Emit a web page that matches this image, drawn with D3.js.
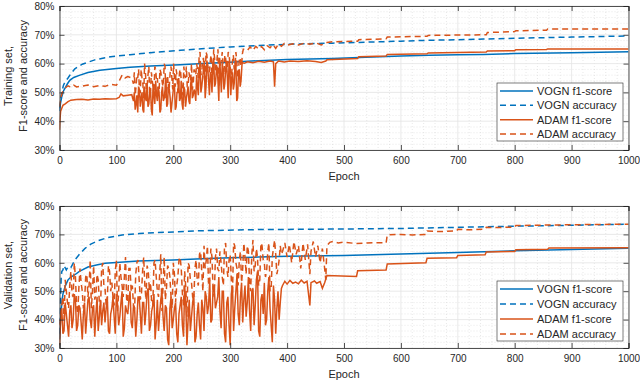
<!DOCTYPE html>
<html>
<head>
<meta charset="utf-8">
<script src="https://cdn.jsdelivr.net/npm/d3@7"></script>
<style>
  body { margin: 0; background: #fff; }
  text { font-family: "Liberation Sans", Arial, sans-serif; fill: #262626; }
</style>
</head>
<body>
<script>
// ---- data (values in %) ----
var xTicks = [0, 100, 200, 300, 400, 500, 600, 700, 800, 900, 1000];
var yTicks = [30, 40, 50, 60, 70, 80];
var legendNames = ["VOGN f1-score", "VOGN accuracy", "ADAM f1-score", "ADAM accuracy"];
var panelLabels = [["Training set,", "F1-score and accuracy"], ["Validation set,", "F1-score and accuracy"]];

// training set
var trainVognF1 = [[0,43.5],[2,46.5],[4,48.5],[7,50.5],[10,51.6],[14,53],[18,54.2],[25,55.2],[36,56],[50,56.9],[71,57.7],[100,58.3],[124,58.7],[160,59.2],[212,59.6],[260,60.1],[300,60.5],[350,61],[400,61.4],[480,61.8],[550,62.3],[600,62.6],[650,62.9],[700,63.1],[745,63.2],[800,63.5],[900,63.8],[1000,64.1]];
var trainVognAcc = [[0,44.5],[2,47.5],[4,50],[7,52.5],[10,53.7],[15,55],[20,56.5],[27,58.2],[40,59.8],[62,61.3],[90,62.4],[124,63.1],[160,63.8],[212,64.6],[260,65.3],[300,65.8],[350,66.3],[400,66.7],[480,67.1],[550,67.5],[600,67.8],[650,68.1],[700,68.3],[745,68.5],[800,68.8],[900,69.2],[1000,69.6]];

var trainAdamF1Head = [[0,37],[1,41],[2,43.5],[4,44.5],[6,45.5],[10,46],[15,46.8],[20,47.3],[30,47.5],[40,47.6],[50,47.4],[60,47.7],[70,47.6],[80,47.8],[90,47.7],[100,47.8],[105,48.3],[108,49.5],[112,48.8],[120,49],[127,49.2]];
// epochs 130, 133, ... and 131.5, 134.5, ...
var trainAdamF1NoiseA = [47,44,49,52,45,50,43,48,53,46,51,42,49,54,47,50,44,52,48,55,46,51,43,49,53,45,50,47,54,44,51,48,52,46,55,49,50,
  56,49,60,52,58,48,61,54,57,50,62,53,59,47,56,60,51,58,55,61,49,57,53,60,48,58,54];
var trainAdamF1NoiseB = [50,46,43,51,48,44,52,47,45,50,44,53,46,49,52,43,50,47,51,45,53,48,46,52,44,50,55,48,46,52,45,50,47,53,48,51,47,
  52,58,50,55,61,52,59,49,56,60,52,57,54,62,50,58,53,61,48,59,55,51,60,47,57,52,59];
var trainAdamF1Tail = [[321,60.3],[325,60.1],[330,60.6],[340,60.3],[350,60.8],[360,60.5],[370,60.9],[376,60.6],[378,52],[380,60],[385,60.9],[395,60.6],[405,60.9],[420,60.7],[435,61],[450,60.7],[460,60.4],[468,60.9],[470,61.3],[524,61.8],[526,62.4],[574,62.6],[576,63.2],[646,63.4],[648,63.7],[750,64],[752,64.4],[800,64.5],[802,64.8],[856,64.9],[858,65.1],[1000,65.1]];

var trainAdamAccHead = [[0,45],[2,48],[5,50],[10,51.5],[15,52.3],[20,51.8],[25,52.5],[30,51.9],[40,52.2],[50,52.6],[60,52],[70,52.4],[80,52.1],[90,52.8],[100,52.5],[105,54],[110,56],[115,55],[120,55.5],[127,55]];
var trainAdamAccNoiseA = [53,49,56,58,50,55,48,57,52,59,51,54,49,58,55,50,57,53,60,48,56,52,59,51,55,58,50,57,54,49,56,59,52,55,60,53,57,
  60,55,64,57,62,53,63,58,61,54,65,57,62,52,60,64,56,62,59,63,54,61,58,64,55,62,59];
var trainAdamAccNoiseB = [57,52,55,50,58,53,60,51,56,49,57,52,59,54,50,58,55,52,59,53,50,57,55,60,52,56,53,58,51,59,55,52,57,54,51,58,56,
  58,63,56,61,55,64,59,57,63,55,62,58,65,56,61,59,63,57,64,60,56,63,59,61,57,62,60];
var trainAdamAccTail = [[321,63],[323,65],[330,64.5],[335,65.8],[340,64.6],[345,66],[350,65],[355,65.9],[360,64.8],[365,66.2],[370,65.5],[375,66.6],[380,65.3],[385,66.8],[390,66],[395,67],[400,66.4],[410,66.9],[420,66.5],[430,67.1],[440,66.7],[450,67.2],[460,66.5],[470,67.3],[480,67.6],[524,67.8],[526,68.3],[574,68.6],[576,69.2],[646,69.5],[648,69.8],[750,70],[752,70.8],[800,71.1],[802,71.4],[856,71.6],[858,72],[1000,72]];

// validation set
var validVognF1 = [[0,33],[2,40],[4,46],[6,49],[10,51.8],[15,54],[20,55],[27,55.8],[35,57],[50,58.5],[65,59.2],[80,59.8],[100,60.1],[138,60.6],[200,61],[250,61.4],[300,61.8],[350,62],[400,62.3],[500,62.6],[600,63.1],[700,63.6],[800,64.2],[900,64.7],[1000,65.1]];
var validVognAcc = [[0,35],[2,48],[3,55],[4,56.9],[6,57.5],[8,59],[12,57.5],[15,58.6],[20,58.3],[27,61],[35,63],[45,65.1],[55,66.6],[68,67.8],[85,68.9],[110,69.8],[140,70.3],[168,70.6],[250,71.3],[350,71.7],[500,71.9],[600,72.1],[700,72.5],[800,72.9],[900,73.2],[1000,73.6]];

// epochs 0, 4, 8, ... and 2, 6, 10, ...
var validAdamF1NoiseA = [31,44,36,42,34,45,40,47,38,44,33,46,41,48,37,45,42,36,47,43,
  39,48,35,44,41,49,38,46,34,45,42,50,37,44,40,48,35,46,43,51,
  38,45,33,47,42,50,36,44,31,48,40,46,32,45,38,52,31,47,41,49,
  34,46,33,44,50,42,54,40,51,46,55,37,50,32,48,31,52,44,56,38,
  53,47,41,55,36,51,45,57,34,49,53,40,55,38,52,35,50,46];
var validAdamF1NoiseB = [40,35,46,38,43,37,49,36,45,39,42,35,47,40,44,34,48,41,38,46,
  44,36,42,48,35,45,41,50,37,43,47,39,45,34,48,42,46,38,50,36,
  43,49,39,36,47,41,45,33,44,37,44,35,42,48,34,45,40,36,46,32,
  42,38,47,36,48,45,39,52,44,48,43,50,35,46,38,49,36,50,42,48,
  39,52,46,43,50,38,54,36,47,42,38,50,44,32,47,44,40,51];
var validAdamF1Tail = [[392,52],[396,53.5],[400,52.5],[405,53.8],[410,52.8],[415,53.2],[420,52.6],[425,53.9],[430,52.9],[435,53.5],[440,45],[442,53],[448,53.6],[452,52.8],[458,53.4],[462,51],[466,53],[470,55.5],[522,55.2],[524,57.2],[574,57.5],[576,59.6],[644,60],[646,61.6],[698,61.8],[700,62.6],[748,62.8],[750,63.8],[800,64],[802,64.6],[858,64.8],[860,65.2],[1000,65.3]];

var validAdamAccNoiseA = [38,45,40,50,44,57,48,55,42,58,50,46,56,52,44,59,49,54,43,60,
  51,47,57,53,45,61,50,55,48,62,46,58,52,44,60,54,49,62,47,57,
  53,45,61,50,56,43,62,51,58,48,60,46,55,62,49,57,41,59,53,47,
  61,52,64,50,58,66,54,62,48,65,57,60,52,67,55,63,49,66,58,61,
  53,67,56,64,50,68,59,62,54,66,60,57,67,51,65,63,58,66];
var validAdamAccNoiseB = [42,48,54,46,52,49,60,45,51,53,44,55,48,61,50,47,56,46,58,52,
  45,59,50,48,57,43,60,52,55,47,58,50,45,56,61,47,57,52,59,50,
  46,60,55,48,63,52,47,59,55,44,56,52,61,58,45,51,60,54,48,58,
  54,63,57,66,61,52,65,50,62,58,64,55,66,58,61,54,67,60,52,64,
  58,62,66,53,63,57,65,52,67,61,55,64,50,62,68,56,61,63];
var validAdamAccTail = [[392,64],[396,67],[400,62],[404,66.5],[408,60],[412,67.5],[416,63],[420,66],[424,58],[428,67],[432,61],[436,66.5],[440,56],[442,64],[446,67.5],[450,62],[454,66],[458,60],[462,65],[466,58],[468,54],[470,66],[475,67.2],[480,67.5],[490,67],[500,67.3],[520,66.8],[540,67],[560,67.1],[574,67],[576,69.8],[600,70],[620,69.8],[644,70],[646,71.2],[670,71],[698,71.3],[700,71.8],[720,71.6],[748,71.9],[750,72.5],[770,72.4],[800,72.6],[802,73.1],[860,73.3],[900,73.4],[1000,73.6]];

// noisy stretches are sampled at regular epochs
function seg(start, step, vals) {
    return vals.map((v, i) => [start + i * step, v]);
}
function noise(start, step, a, b) {
    return seg(start, step, a).concat(seg(start + step / 2, step, b))
        .sort((p, q) => p[0] - q[0]);
}

var colors = ["#0072BD", "#0072BD", "#D95319", "#D95319"];
var dashes = [null, "6,4", null, "6,4"];

var panels = [
    {
        top: 6, bottom: 150, labels: panelLabels[0],
        series: [trainVognF1, trainVognAcc,
                 trainAdamF1Head.concat(noise(130, 3, trainAdamF1NoiseA, trainAdamF1NoiseB), trainAdamF1Tail),
                 trainAdamAccHead.concat(noise(130, 3, trainAdamAccNoiseA, trainAdamAccNoiseB), trainAdamAccTail)],
        legend: {x: 497, y: 83, w: 126, h: 58}
    },
    {
        top: 206, bottom: 348, labels: panelLabels[1],
        series: [validVognF1, validVognAcc,
                 noise(0, 4, validAdamF1NoiseA, validAdamF1NoiseB).concat(validAdamF1Tail),
                 noise(0, 4, validAdamAccNoiseA, validAdamAccNoiseB).concat(validAdamAccTail)],
        legend: {x: 497, y: 281, w: 126, h: 60}
    }
];

var w = 640, h = 384;
var left = 59.5, right = 628.5;

var svg = d3.select("body").append("svg")
    .attr("width", w)
    .attr("height", h);

var x = d3.scaleLinear().domain([0, 1000]).range([left, right]);
var minorX = d3.range(0, 1001, 20);
var minorY = d3.range(30, 81, 2);

panels.forEach(function(p, pi) {
    var y = d3.scaleLinear().domain([30, 80]).range([p.bottom, p.top]);
    var g = svg.append("g");

    g.append("rect")
        .attr("x", left).attr("y", p.top)
        .attr("width", right - left).attr("height", p.bottom - p.top)
        .attr("fill", "#fff");

    // minor grid (dotted)
    g.selectAll(".mx").data(minorX.filter(d => d % 100 != 0)).enter()
        .append("line")
        .attr("x1", d => x(d)).attr("x2", d => x(d))
        .attr("y1", p.top).attr("y2", p.bottom)
        .attr("stroke", "#d8d8d8").attr("stroke-width", 0.6)
        .attr("stroke-dasharray", "1,2");
    g.selectAll(".my").data(minorY.filter(d => d % 10 != 0)).enter()
        .append("line")
        .attr("x1", left).attr("x2", right)
        .attr("y1", d => y(d)).attr("y2", d => y(d))
        .attr("stroke", "#d8d8d8").attr("stroke-width", 0.6)
        .attr("stroke-dasharray", "1,2");

    // major grid
    g.selectAll(".gx").data(xTicks).enter()
        .append("line")
        .attr("x1", d => x(d)).attr("x2", d => x(d))
        .attr("y1", p.top).attr("y2", p.bottom)
        .attr("stroke", "#e3e3e3").attr("stroke-width", 0.8);
    g.selectAll(".gy").data(yTicks).enter()
        .append("line")
        .attr("x1", left).attr("x2", right)
        .attr("y1", d => y(d)).attr("y2", d => y(d))
        .attr("stroke", "#e3e3e3").attr("stroke-width", 0.8);

    // lines
    var clipId = "clip" + pi;
    svg.append("clipPath").attr("id", clipId)
        .append("rect")
        .attr("x", left).attr("y", p.top)
        .attr("width", right - left).attr("height", p.bottom - p.top);

    var line = d3.line().x(d => x(d[0])).y(d => y(d[1]));

    g.append("g").attr("clip-path", "url(#" + clipId + ")")
        .selectAll("path").data(p.series).enter()
        .append("path")
        .attr("d", d => line(d))
        .attr("fill", "none")
        .attr("stroke", (d, i) => colors[i])
        .attr("stroke-width", 1.5)
        .attr("stroke-dasharray", (d, i) => dashes[i]);

    // axes, ticks pointing inward
    var xAx = g.append("g").attr("transform", "translate(0," + p.bottom + ")")
        .call(d3.axisBottom(x).tickValues(xTicks).tickSize(-5).tickPadding(7).tickFormat(d3.format("d")));
    var xTop = g.append("g").attr("transform", "translate(0," + p.top + ")")
        .call(d3.axisTop(x).tickValues(xTicks).tickSize(-5).tickFormat(""));
    var yAx = g.append("g").attr("transform", "translate(" + left + ",0)")
        .call(d3.axisLeft(y).tickValues(yTicks).tickSize(-5).tickPadding(5).tickFormat(d => d + "%"));
    var yRight = g.append("g").attr("transform", "translate(" + right + ",0)")
        .call(d3.axisRight(y).tickValues(yTicks).tickSize(-5).tickFormat(""));

    [xAx, xTop, yAx, yRight].forEach(function(a) {
        a.select(".domain").attr("stroke", "#262626").attr("stroke-width", 0.8);
        a.selectAll(".tick line").attr("stroke", "#262626").attr("stroke-width", 0.8);
        a.selectAll("text")
            .attr("font-size", "10px")
            .attr("font-family", "Liberation Sans, Arial, sans-serif")
            .attr("fill", "#262626");
    });

    // axis labels
    g.append("text")
        .attr("x", (left + right) / 2).attr("y", p.bottom + 30)
        .attr("text-anchor", "middle")
        .attr("font-size", "11px")
        .text("Epoch");

    var cy = (p.top + p.bottom) / 2 - 2;
    p.labels.forEach(function(t, li) {
        g.append("text")
            .attr("transform", "translate(" + (12 + li * 15) + "," + cy + ") rotate(-90)")
            .attr("text-anchor", "middle")
            .attr("font-size", "11px")
            .text(t);
    });

    // legend
    var L = p.legend;
    var lg = g.append("g");
    lg.append("rect")
        .attr("x", L.x).attr("y", L.y)
        .attr("width", L.w).attr("height", L.h)
        .attr("fill", "#fff")
        .attr("stroke", "#262626").attr("stroke-width", 0.6);
    var step = (L.h - 15) / 3;
    legendNames.forEach(function(name, i) {
        var ly = L.y + 8 + i * step;
        lg.append("line")
            .attr("x1", L.x + 3).attr("x2", L.x + 36)
            .attr("y1", ly).attr("y2", ly)
            .attr("stroke", colors[i]).attr("stroke-width", 1.5)
            .attr("stroke-dasharray", dashes[i]);
        lg.append("text")
            .attr("x", L.x + 40).attr("y", ly + 4)
            .attr("font-size", "11px")
            .text(name);
    });
});
</script>
</body>
</html>
